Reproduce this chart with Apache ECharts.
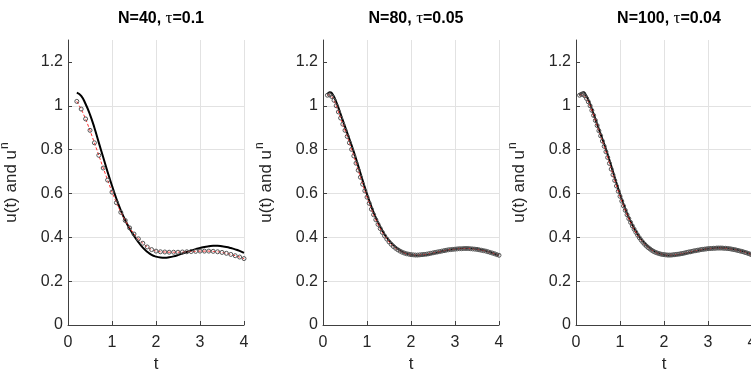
<!DOCTYPE html>
<html>
<head>
<meta charset="utf-8">
<script src="https://cdn.jsdelivr.net/npm/echarts@6/dist/echarts.min.js"></script>
<style>
  html, body { margin: 0; padding: 0; background: #fff; }
  #chart { width: 751px; height: 371px; }
</style>
</head>
<body>
<div id="chart"></div>
<script>
// panel settings: N and tau
const panelN = [40, 80, 100];
const panelTau = [0.1, 0.05, 0.04];
const xTicks = [0, 1, 2, 3, 4];
const yTicks = [0, 0.2, 0.4, 0.6, 0.8, 1, 1.2];

// exact solution u(t), black line
const exactT40 = [0.2,0.3,0.4,0.5,0.6,0.7,0.8,0.9,1.0,1.1,1.2,1.3,1.4,1.5,1.6,1.7,1.8,1.9,2.0,2.1,2.2,2.3,2.4,2.5,2.6,2.7,2.8,2.9,3.0,3.1,3.2,3.3,3.4,3.5,3.6,3.7,3.8,3.9,4.0];
const exactU40 = [1.06,1.045,1.008,0.96,0.9,0.832,0.765,0.698,0.635,0.576,0.523,0.478,0.44,0.407,0.378,0.353,0.334,0.32,0.312,0.308,0.307,0.309,0.313,0.319,0.326,0.333,0.34,0.346,0.351,0.356,0.359,0.361,0.361,0.359,0.356,0.351,0.345,0.338,0.329];

const exactT80 = [0.1,0.15,0.2,0.3,0.4,0.5,0.6,0.7,0.8,0.9,1.0,1.1,1.2,1.3,1.4,1.5,1.6,1.7,1.8,1.9,2.0,2.1,2.2,2.3,2.4,2.5,2.6,2.7,2.8,2.9,3.0,3.1,3.2,3.3,3.4,3.5,3.6,3.7,3.8,3.9,4.0];
const exactU80 = [1.052,1.062,1.058,1.018,0.962,0.905,0.848,0.79,0.726,0.66,0.597,0.54,0.49,0.448,0.413,0.386,0.365,0.348,0.335,0.326,0.32,0.317,0.317,0.319,0.322,0.326,0.331,0.336,0.34,0.344,0.347,0.349,0.35,0.35,0.349,0.347,0.343,0.338,0.332,0.325,0.317];

const exactT100 = [0.08,0.12,0.17,0.2,0.3,0.4,0.5,0.6,0.7,0.8,0.9,1.0,1.1,1.2,1.3,1.4,1.5,1.6,1.7,1.8,1.9,2.0,2.1,2.2,2.3,2.4,2.5,2.6,2.7,2.8,2.9,3.0,3.1,3.2,3.3,3.4,3.5,3.6,3.7,3.8,3.9,4.0];
const exactU100 = [1.05,1.058,1.062,1.058,1.018,0.962,0.905,0.848,0.79,0.726,0.66,0.597,0.54,0.49,0.448,0.413,0.386,0.365,0.348,0.335,0.326,0.32,0.317,0.317,0.319,0.322,0.326,0.331,0.336,0.341,0.345,0.348,0.35,0.352,0.352,0.351,0.349,0.346,0.341,0.336,0.329,0.321];

// numerical solution u^n at t = 2*tau, 3*tau, ..., 4
const numU40 = [1.02,0.985,0.94,0.888,0.831,0.774,0.716,0.661,0.606,0.558,
  0.514,0.477,0.443,0.415,0.393,0.373,0.356,0.344,0.337,0.334,
  0.333,0.332,0.332,0.332,0.333,0.334,0.335,0.336,0.337,0.337,
  0.337,0.336,0.334,0.331,0.327,0.322,0.316,0.31,0.303];

const numU80 = [1.048,1.05,1.042,1.025,1.0,0.972,0.944,0.916,0.888,0.86,
  0.831,0.801,0.771,0.738,0.706,0.674,0.642,0.612,0.583,0.555,
  0.528,0.503,0.48,0.459,0.44,0.422,0.406,0.392,0.379,0.368,
  0.358,0.35,0.343,0.337,0.332,0.328,0.325,0.323,0.321,0.32,
  0.319,0.319,0.32,0.321,0.322,0.323,0.325,0.327,0.329,0.331,
  0.333,0.335,0.337,0.339,0.341,0.343,0.344,0.345,0.346,0.347,
  0.348,0.348,0.349,0.349,0.349,0.348,0.347,0.346,0.345,0.343,
  0.341,0.339,0.337,0.334,0.331,0.328,0.325,0.321,0.318];

const numU100 = [1.048,1.052,1.052,1.045,1.033,1.018,1.0,0.979,0.956,0.933,
  0.91,0.886,0.863,0.839,0.815,0.79,0.764,0.737,0.711,0.685,
  0.659,0.634,0.61,0.587,0.565,0.543,0.523,0.503,0.485,0.468,
  0.452,0.437,0.423,0.41,0.398,0.387,0.377,0.368,0.36,0.353,
  0.347,0.341,0.336,0.332,0.329,0.326,0.324,0.322,0.321,0.32,
  0.319,0.319,0.319,0.32,0.321,0.322,0.323,0.324,0.326,0.327,
  0.329,0.331,0.333,0.334,0.336,0.338,0.339,0.341,0.342,0.344,
  0.345,0.346,0.347,0.348,0.349,0.349,0.35,0.35,0.351,0.351,
  0.351,0.351,0.35,0.35,0.349,0.348,0.347,0.345,0.344,0.342,
  0.34,0.338,0.336,0.334,0.331,0.329,0.326,0.323,0.32];

const exactT = [exactT40, exactT80, exactT100];
const exactU = [exactU40, exactU80, exactU100];
const numU = [numU40, numU80, numU100];

const gridLeft = [68, 323, 576];
const gridTop = 40;
const gridW = 176;
const gridH = 285;
const textColor = '#262626';
const fontFam = '"Liberation Sans", Arial, sans-serif';

const chart = echarts.init(document.getElementById('chart'), null, { renderer: 'canvas' });

const grids = [], xAxes = [], yAxes = [], titles = [], series = [];

panelN.forEach((n, i) => {
  const tau = panelTau[i];
  grids.push({ left: gridLeft[i], top: gridTop, width: gridW, height: gridH, outerBoundsMode: 'none', containLabel: false });

  titles.push({
    text: 'N=' + n + ', {tau|τ}=' + tau,
    left: gridLeft[i] + gridW / 2,
    top: 5,
    textAlign: 'center',
    textStyle: {
      fontFamily: fontFam, fontSize: 16, fontWeight: 'bold', color: '#000',
      rich: { tau: { fontFamily: '"Liberation Serif", serif', fontSize: 17, fontWeight: 'normal', color: '#000' } }
    }
  });

  xAxes.push({
    gridIndex: i, type: 'value', min: xTicks[0], max: xTicks[xTicks.length - 1], interval: 1,
    name: 't', nameLocation: 'middle', nameGap: 24,
    nameTextStyle: { fontFamily: fontFam, fontSize: 17, color: textColor },
    axisLine: { show: true, onZero: false, lineStyle: { color: '#404040', width: 1 } },
    axisTick: { show: true, inside: true, length: 4, lineStyle: { color: '#404040' } },
    axisLabel: { fontFamily: fontFam, fontSize: 16, color: textColor, margin: 10 },
    splitLine: { show: true, lineStyle: { color: '#e2e2e2', width: 1 } }
  });

  yAxes.push({
    gridIndex: i, type: 'value', min: 0, max: 1.3, interval: 0.2,
    name: '{a|u(t) and u}{s|n}', nameLocation: 'middle', nameGap: 44, nameRotate: 90,
    nameTextStyle: {
      fontFamily: fontFam, color: textColor,
      rich: {
        a: { fontFamily: fontFam, fontSize: 17, color: textColor },
        s: { fontFamily: fontFam, fontSize: 12, color: textColor, padding: [0, 0, 13, 1] }
      }
    },
    axisLine: { show: true, onZero: false, lineStyle: { color: '#404040', width: 1 } },
    axisTick: { show: true, inside: true, length: 4, customValues: yTicks, lineStyle: { color: '#404040' } },
    axisLabel: { fontFamily: fontFam, fontSize: 16, color: textColor, margin: 5, showMaxLabel: false },
    splitLine: { show: true, showMaxLine: false, lineStyle: { color: '#e2e2e2', width: 1 } }
  });

  series.push({
    type: 'line', xAxisIndex: i, yAxisIndex: i,
    data: exactT[i].map((t, k) => [t, exactU[i][k]]),
    showSymbol: false, smooth: true,
    lineStyle: { color: '#000', width: 2 }, z: 2, silent: true
  });

  series.push({
    type: 'line', xAxisIndex: i, yAxisIndex: i,
    data: numU[i].map((u, k) => [+((k + 2) * tau).toFixed(2), u]),
    symbol: 'circle', symbolSize: 4,
    itemStyle: { color: 'rgba(255,255,255,0)', borderColor: '#555', borderWidth: 1 },
    lineStyle: { color: '#ff3030', width: 1, type: [3, 2] },
    z: 3, silent: true
  });
});

chart.setOption({
  animation: false,
  backgroundColor: '#fff',
  title: titles,
  grid: grids,
  xAxis: xAxes,
  yAxis: yAxes,
  series: series
});
</script>
</body>
</html>
